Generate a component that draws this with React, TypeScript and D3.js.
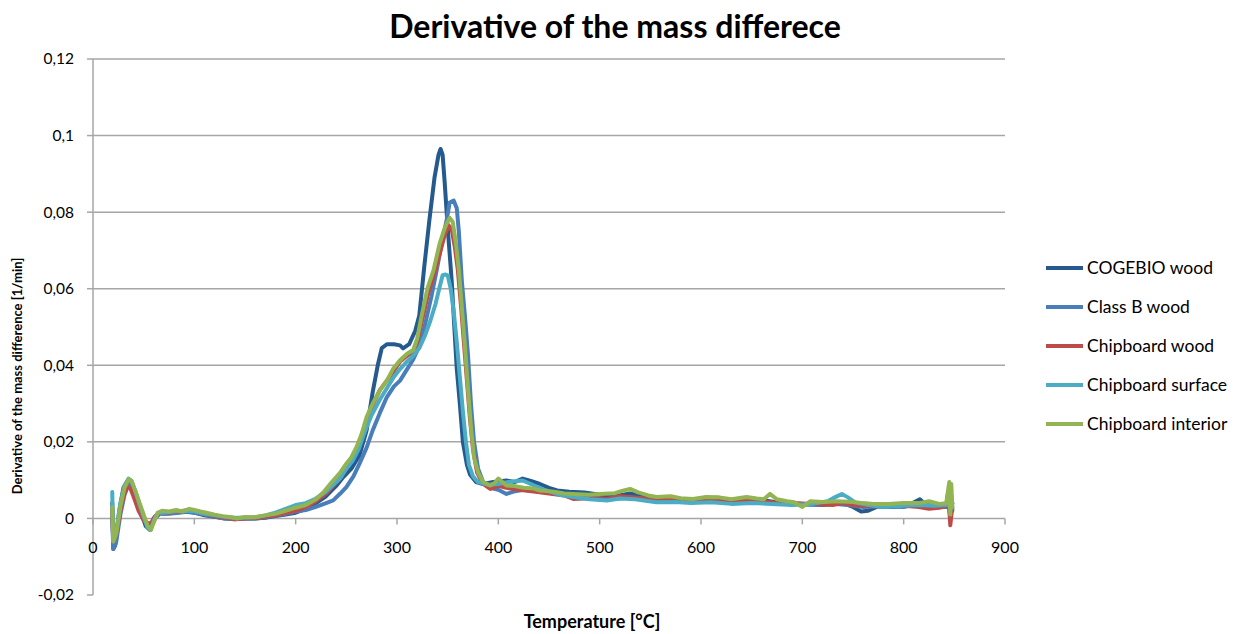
import React from "react";
import * as d3 from "d3";

type P = [number, number];

const xTicks = [0, 100, 200, 300, 400, 500, 600, 700, 800, 900];
const yTicks = [-0.02, 0, 0.02, 0.04, 0.06, 0.08, 0.1, 0.12];
const yTickLabels = ["-0,02", "0", "0,02", "0,04", "0,06", "0,08", "0,1", "0,12"];

const seriesNames = ["COGEBIO wood", "Class B wood", "Chipboard wood", "Chipboard surface", "Chipboard interior"];
const seriesColors = ["#255A8F", "#4A7EBB", "#BE4B48", "#4BACC6", "#93B453"];

const cogebio: P[] = [[19,0.004],[20,-0.008],[22,-0.007],[26,0.002],[30,0.008],[34,0.0098],[37,0.0095],[42,0.006],[47,0.002],[52,-0.002],[56,-0.003],[60,0],[65,0.0015],[70,0.0012],[80,0.0015],[90,0.0018],[100,0.0015],[110,0.0008],[120,0.0004],[130,0],[140,0],[150,0],[160,0],[170,0.0002],[180,0.0006],[190,0.001],[200,0.0015],[210,0.0025],[220,0.004],[230,0.0058],[240,0.0085],[247,0.0108],[255,0.013],[263,0.0165],[270,0.023],[276,0.033],[281,0.040],[285,0.0445],[290,0.0455],[297,0.0455],[303,0.0452],[306,0.0444],[312,0.0455],[318,0.049],[322,0.053],[327,0.066],[332,0.078],[337,0.089],[341,0.095],[343,0.0965],[345,0.095],[347,0.088],[350,0.076],[354,0.062],[357,0.048],[359,0.039],[362,0.03],[365,0.02],[369,0.014],[372,0.0115],[378,0.0095],[385,0.009],[395,0.0095],[408,0.0099],[416,0.0095],[424,0.0104],[432,0.0098],[441,0.009],[450,0.008],[458,0.0073],[470,0.007],[485,0.0068],[500,0.0062],[515,0.0058],[530,0.0065],[545,0.0057],[560,0.0055],[580,0.005],[600,0.0048],[620,0.005],[640,0.0045],[660,0.0048],[680,0.004],[700,0.0038],[720,0.0035],[740,0.004],[750,0.003],[758,0.0018],[765,0.002],[775,0.0032],[790,0.003],[805,0.0035],[816,0.005],[822,0.0035],[835,0.0032],[843,0.003],[845,0.007],[846,0.0],[847,0.006],[848,0.002]];

const classB: P[] = [[19,0.0],[20,-0.008],[23,-0.006],[27,0.001],[31,0.006],[35,0.009],[38,0.0088],[42,0.006],[46,0.003],[50,0.0],[54,-0.002],[57,-0.0025],[61,0.0],[66,0.0012],[75,0.0012],[85,0.0015],[95,0.0018],[100,0.0015],[110,0.001],[120,0.0005],[130,0.0],[140,-0.0002],[150,0.0],[160,0.0],[170,0.0003],[180,0.0007],[190,0.0012],[200,0.0018],[210,0.0022],[220,0.003],[230,0.004],[237,0.0047],[244,0.0065],[250,0.0082],[257,0.011],[263,0.0143],[270,0.0185],[276,0.023],[283,0.0275],[290,0.0317],[297,0.0345],[303,0.036],[310,0.039],[316,0.0415],[322,0.045],[328,0.051],[334,0.058],[340,0.066],[345,0.073],[349,0.078],[352,0.0825],[356,0.083],[359,0.081],[361,0.075],[364,0.062],[367,0.053],[370,0.043],[373,0.03],[376,0.02],[380,0.013],[385,0.0095],[392,0.008],[400,0.0075],[408,0.0064],[415,0.007],[425,0.0075],[440,0.007],[455,0.0065],[470,0.006],[490,0.0055],[510,0.005],[530,0.0055],[550,0.005],[570,0.0048],[590,0.0045],[610,0.0045],[630,0.0042],[650,0.0044],[670,0.004],[690,0.0038],[710,0.0036],[730,0.0038],[745,0.0035],[760,0.003],[780,0.0032],[800,0.003],[815,0.0038],[830,0.0032],[842,0.003],[844,0.005],[846,0.0],[848,0.004]];

const chipWood: P[] = [[19,0.002],[20,-0.006],[23,-0.004],[27,0.002],[31,0.0065],[34,0.0082],[37,0.0078],[41,0.005],[45,0.002],[50,-0.0005],[54,-0.0012],[57,-0.0013],[61,0.0005],[66,0.0015],[75,0.0015],[85,0.0018],[95,0.0022],[100,0.0018],[110,0.0012],[120,0.0006],[130,0.0002],[140,-0.0002],[150,0.0],[160,0.0001],[170,0.0004],[180,0.0008],[190,0.0014],[200,0.002],[210,0.003],[220,0.0045],[230,0.0065],[237,0.0085],[244,0.0105],[250,0.013],[256,0.0155],[262,0.019],[268,0.024],[275,0.029],[283,0.0335],[290,0.036],[297,0.0385],[303,0.041],[310,0.0425],[316,0.0435],[320,0.046],[325,0.052],[331,0.059],[337,0.064],[343,0.07],[347,0.074],[351,0.0765],[354,0.0755],[357,0.071],[360,0.065],[363,0.056],[366,0.046],[369,0.036],[372,0.026],[375,0.018],[379,0.012],[385,0.009],[392,0.0077],[400,0.0085],[408,0.008],[420,0.0075],[435,0.007],[450,0.0065],[465,0.006],[474,0.0051],[490,0.0053],[507,0.0051],[520,0.0058],[535,0.0055],[550,0.005],[570,0.005],[590,0.0048],[610,0.0048],[630,0.0045],[650,0.0046],[670,0.0042],[690,0.004],[710,0.0038],[730,0.0035],[740,0.004],[750,0.0035],[765,0.0032],[780,0.0032],[800,0.0033],[815,0.003],[825,0.0025],[835,0.0028],[842,0.0032],[844,0.007],[846,-0.0018],[848,0.003]];

const chipSurface: P[] = [[19,0.0069],[20,-0.006],[23,-0.003],[27,0.004],[31,0.0085],[35,0.0104],[38,0.0098],[42,0.007],[46,0.0035],[50,0.0005],[54,-0.0025],[57,-0.003],[60,-0.0005],[64,0.0015],[70,0.0015],[80,0.0018],[90,0.002],[100,0.0018],[110,0.0012],[120,0.0008],[130,0.0004],[140,0.0002],[150,0.0002],[160,0.0003],[170,0.0008],[180,0.0015],[190,0.0025],[200,0.0035],[210,0.004],[220,0.0052],[230,0.007],[237,0.0088],[244,0.0105],[250,0.013],[256,0.015],[262,0.018],[268,0.0225],[275,0.027],[283,0.031],[290,0.034],[297,0.037],[303,0.039],[310,0.041],[316,0.0425],[322,0.0445],[328,0.048],[333,0.0517],[338,0.056],[342,0.0604],[345,0.0635],[348,0.0637],[350,0.0635],[353,0.06],[356,0.054],[359,0.046],[362,0.037],[365,0.028],[368,0.02],[371,0.014],[375,0.011],[380,0.0095],[390,0.0088],[400,0.009],[410,0.0095],[424,0.0099],[432,0.009],[445,0.0075],[460,0.0062],[474,0.0056],[490,0.005],[507,0.0047],[520,0.0052],[535,0.005],[556,0.0042],[575,0.0043],[590,0.004],[610,0.0042],[630,0.0038],[650,0.004],[670,0.0038],[690,0.0035],[710,0.0038],[725,0.0045],[732,0.0055],[739,0.0064],[745,0.0055],[752,0.0042],[765,0.0035],[780,0.003],[800,0.0033],[815,0.0035],[830,0.0033],[842,0.0035],[844,0.006],[846,0.002],[848,0.004]];

const chipInterior: P[] = [[19,0.003],[20,-0.006],[23,-0.004],[27,0.003],[31,0.008],[35,0.0102],[38,0.0098],[42,0.007],[46,0.004],[50,0.001],[54,-0.002],[57,-0.003],[60,-0.001],[64,0.0015],[68,0.002],[75,0.0018],[82,0.0022],[88,0.0018],[95,0.0025],[100,0.0022],[106,0.0018],[112,0.0015],[120,0.001],[128,0.0006],[135,0.0004],[142,0.0],[150,0.0004],[160,0.0003],[170,0.0008],[180,0.0012],[190,0.002],[200,0.0028],[210,0.0035],[220,0.005],[228,0.007],[237,0.0099],[244,0.012],[250,0.0143],[255,0.016],[260,0.0186],[265,0.022],[270,0.0265],[276,0.030],[283,0.0334],[290,0.036],[296,0.039],[303,0.0413],[310,0.043],[316,0.044],[320,0.047],[324,0.0526],[330,0.06],[336,0.0648],[342,0.0717],[346,0.075],[349,0.077],[352,0.0785],[355,0.0775],[358,0.072],[361,0.065],[364,0.055],[367,0.045],[370,0.034],[373,0.024],[376,0.016],[380,0.012],[385,0.0095],[392,0.0086],[396,0.0092],[400,0.0104],[404,0.0095],[408,0.0086],[415,0.0085],[425,0.008],[435,0.0078],[441,0.0073],[455,0.007],[465,0.0065],[474,0.0064],[490,0.0062],[500,0.0064],[515,0.0066],[522,0.0072],[530,0.0077],[538,0.0068],[548,0.006],[556,0.0056],[570,0.0058],[580,0.0053],[592,0.0051],[605,0.0056],[618,0.0055],[630,0.005],[645,0.0056],[655,0.0052],[662,0.005],[668,0.0064],[675,0.005],[685,0.0045],[692,0.0042],[700,0.003],[708,0.0045],[720,0.0043],[735,0.0045],[750,0.0043],[760,0.004],[770,0.0038],[785,0.0038],[800,0.004],[815,0.004],[825,0.0045],[835,0.0038],[842,0.004],[845,0.0095],[846,0.001],[847,0.009],[848,0.003]];

const seriesData = [cogebio, classB, chipWood, chipSurface, chipInterior];

export default function App() {
  const W = 1245, H = 634;
  const x = d3.scaleLinear().domain([0, 900]).range([93, 1005]);
  const y = d3.scaleLinear().domain([-0.02, 0.12]).range([595, 59]);
  const line = d3.line<P>().x(d => x(d[0])).y(d => y(d[1]));
  const font = "Lato, 'Open Sans', sans-serif";
  const grid = "#A6A6A6";
  return (
    <svg width={W} height={H} style={{ position: "absolute", left: 0, top: 0, background: "#fff" }} fontFamily={font}>
      <rect width={W} height={H} fill="#fff" />
      <text x={615} y={38} textAnchor="middle" fontSize={32} fontWeight="bold" fill="#000">Derivative of the mass differece</text>
      {yTicks.filter(t => t > 0).map(t => (
        <line key={"g" + t} x1={x(0)} x2={x(900)} y1={y(t)} y2={y(t)} stroke={grid} strokeWidth={1.5} />
      ))}
      <line x1={x(0)} x2={x(0)} y1={y(0.12)} y2={y(-0.02)} stroke={grid} strokeWidth={1.5} />
      <line x1={x(0)} x2={x(900)} y1={y(0)} y2={y(0)} stroke={grid} strokeWidth={1.5} />
      {yTicks.map((t, i) => (
        <g key={"y" + t}>
          <line x1={x(0) - 6} x2={x(0)} y1={y(t)} y2={y(t)} stroke={grid} strokeWidth={1.5} />
          <text x={74} y={y(t)} dy="0.35em" textAnchor="end" fontSize={15.5} fill="#000">{yTickLabels[i]}</text>
        </g>
      ))}
      {xTicks.map(t => (
        <g key={"x" + t}>
          <line x1={x(t)} x2={x(t)} y1={y(0)} y2={y(0) + 6} stroke={grid} strokeWidth={1.5} />
          <text x={x(t)} y={547} dy="0.35em" textAnchor="middle" fontSize={16} fill="#000">{t}</text>
        </g>
      ))}
      {seriesData.map((s, i) => (
        <path key={"s" + i} d={line(s) || ""} fill="none" stroke={seriesColors[i]} strokeWidth={4} strokeLinejoin="round" strokeLinecap="round" />
      ))}
      <text transform={`translate(22,${376}) rotate(-90)`} textAnchor="middle" fontSize={13} fontWeight="bold" fill="#000">Derivative of the mass difference [1/min]</text>
      <text x={592} y={622} dy="0.35em" textAnchor="middle" fontSize={18} fontWeight="bold" fill="#000">Temperature [°C]</text>
      {seriesNames.map((n, i) => (
        <g key={"l" + i}>
          <line x1={1046} x2={1083} y1={268 + i * 39} y2={268 + i * 39} stroke={seriesColors[i]} strokeWidth={4} />
          <text x={1087} y={268 + i * 39} dy="0.35em" fontSize={17.5} fill="#000">{n}</text>
        </g>
      ))}
    </svg>
  );
}
